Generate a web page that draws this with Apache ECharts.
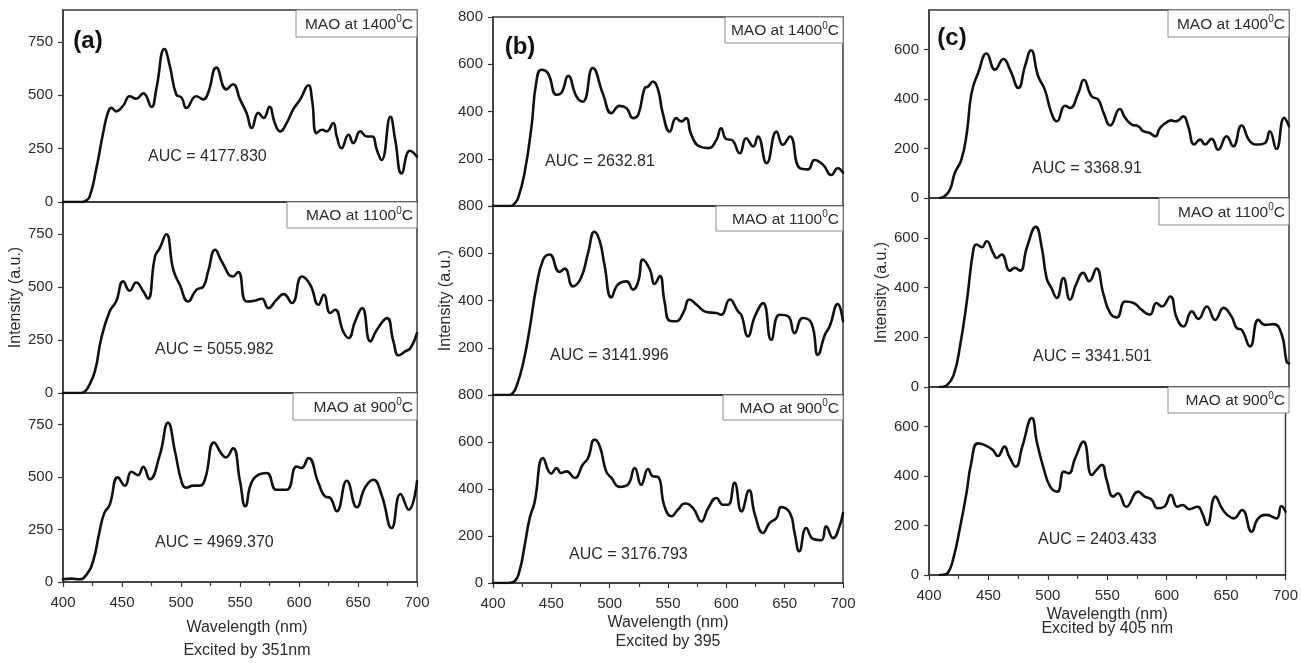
<!DOCTYPE html>
<html>
<head>
<meta charset="utf-8">
<script src="https://cdn.jsdelivr.net/npm/echarts@6/dist/echarts.min.js"></script>
<style>
  html, body { margin: 0; padding: 0; background: #ffffff; }
  #chart { width: 1301px; height: 663px; }
</style>
</head>
<body>
<div id="chart"></div>
<script>
// ---- Emission spectra: wavelength (nm) vs intensity (a.u.) ----
// (a) excited by 351 nm
const a1400 = [[400,0],[416,0],[419,5],[422.5,24],[428,150],[434,323],[438,418],[441,441],[445,425],[451,452],[456.5,496],[462,484],[468,509],[475,446],[479,528],[486,717],[490.5,638],[496,504],[500.5,489],[504.5,441],[513,496],[519,481],[523,512],[530,630],[538.5,528],[544,552],[550,481],[555.5,418],[560,347],[565.5,418],[570,394],[575,446],[579.5,370],[584,331],[589.5,370],[595,433],[601,481],[608,547],[611,481],[615,323],[619.5,339],[623.5,331],[629,370],[632,307],[636,252],[642,315],[646,276],[652,331],[657.5,307],[662,307],[666,244],[670,197],[677.5,399],[681.5,292],[687,134],[694,240],[700,213]];
const a1100 = [[400,0],[415,0],[418,5],[421,24],[427,102],[432.5,259],[439.5,384],[445,431],[451,526],[456.5,482],[462,521],[468,479],[472,444],[478,643],[482,683],[487.5,748],[493.5,580],[499,510],[506,431],[513,486],[519,502],[523,573],[529,675],[534.5,620],[544,549],[548.5,570],[555.5,431],[562.5,435],[568.5,444],[574,400],[581,439],[587,466],[594,424],[602.5,549],[609.5,510],[616.5,416],[621,463],[626.5,377],[630.5,392],[637.5,290],[642,259],[647.5,337],[653.5,400],[660.5,243],[666,298],[674.5,353],[680,243],[684.5,177],[690,196],[694.5,212],[700,282]];
const a900 = [[400,13],[407,16],[414,13],[420,36],[425.5,99],[431,241],[435,328],[439.5,367],[446.5,498],[452.5,459],[458,525],[463.5,509],[468,548],[473.5,489],[482,604],[489,758],[495,619],[500.5,478],[504.5,449],[510.5,459],[516,459],[520.5,493],[528,664],[534.5,609],[538,593],[544,637],[550,480],[554.5,361],[561,487],[572.5,519],[581,439],[589.5,439],[598,550],[602,543],[608,590],[616.5,471],[622,408],[626.5,400],[632,337],[640.5,482],[649,356],[656,450],[663,487],[670,414],[678.5,257],[686,419],[693,344],[700,479]];

// (b) excited by 395 nm
const b1400 = [[400,0],[415.5,0],[418,8],[421.5,33],[427,139],[433,336],[437,520],[441.5,577],[447,563],[454.5,471],[458.5,478],[464.5,551],[471.5,464],[477,442],[485.5,584],[494.5,471],[501.5,393],[508.5,424],[514.5,414],[520,372],[524.5,386],[530,499],[533,506],[537,527],[541.5,492],[545.5,393],[551.5,315],[557,372],[561.5,358],[565.5,372],[570,301],[577,252],[584.5,245],[591.5,280],[595.5,329],[600,283],[604.5,280],[611.5,223],[617,287],[623,252],[627,294],[634.5,181],[643,315],[648.5,259],[654.5,294],[663,160],[670,155],[675.5,195],[683,174],[690,131],[695.5,160],[700,141]];
const b1100 = [[400,0],[414,0],[417,8],[420,35],[425.5,127],[431.5,283],[437,453],[443,573],[448.5,595],[457,521],[461.5,535],[468.5,460],[475.5,496],[481.5,602],[487,691],[491.5,651],[495.5,552],[501.5,413],[507,467],[514.5,481],[520,446],[524.5,481],[528.5,573],[534.5,531],[538.5,470],[543,503],[547,396],[551.5,314],[557,312],[563,347],[568.5,404],[574.5,382],[583,351],[591.5,347],[595.5,340],[603,404],[610,354],[613,337],[618.5,248],[624.5,333],[631.5,389],[638.5,234],[645.5,340],[653,333],[658.5,262],[665.5,326],[673,304],[678.5,170],[684.5,255],[688.5,290],[695.5,385],[700,312]];
const b900 = [[400,0],[413,0],[418.5,7],[423,57],[427,156],[431.5,277],[435.5,340],[443,532],[450,465],[454.5,489],[458.5,468],[463,475],[470,447],[477,504],[481.5,532],[487,610],[491.5,582],[497,475],[501.5,447],[508.5,409],[515.5,418],[521.5,489],[527,418],[533,485],[537,454],[541.5,451],[547,326],[553,284],[558.5,312],[564.5,338],[571.5,319],[578.5,262],[584.5,319],[591.5,362],[597,333],[601.5,333],[607,426],[613,305],[619.5,394],[624.5,291],[631.5,213],[637,255],[643,277],[647,323],[654.5,298],[658.5,213],[662.5,135],[668.5,234],[674.5,187],[681.5,182],[685.5,241],[691.5,191],[697,241],[700,298]];

// (c) excited by 405 nm
const c1400 = [[409,0],[413,7],[417.5,34],[421.5,101],[427,155],[431.5,263],[435.5,425],[441,506],[448,584],[455,519],[462,562],[467.5,519],[474.5,445],[480,533],[485,597],[491,492],[496.5,438],[502,344],[506.5,310],[513.5,373],[517.5,364],[524.5,425],[529,478],[535.5,411],[541,398],[545.5,344],[551,293],[559,360],[563.5,324],[569,297],[574.5,290],[578.5,270],[584,263],[588.5,249],[592.5,283],[598,306],[602,314],[605,310],[608,314],[612,330],[616,290],[621,216],[626,236],[630,216],[635.5,239],[641,195],[648,249],[653.5,209],[660.5,293],[667.5,229],[674.5,216],[680,222],[684,270],[689.5,198],[696,324],[700,290]];
const c1100 = [[409,0],[412,1],[414.5,5],[420.5,48],[426,169],[431.5,344],[437,553],[439.5,573],[444,562],[448,586],[453.5,539],[456.5,519],[460.5,533],[467.5,468],[471.5,479],[476,468],[481.5,560],[489,644],[494,560],[498,438],[502,398],[506.5,358],[512,438],[517.5,351],[523,418],[528.5,459],[533.5,425],[539.5,476],[545.5,371],[551,297],[556.5,280],[563.5,344],[570.5,338],[577,311],[584,291],[589.5,338],[594,324],[601,364],[606.5,277],[612,243],[619,304],[624.5,274],[631.5,324],[638.5,270],[645.5,318],[652,284],[656.5,237],[660.5,230],[667.5,163],[674.5,270],[680,250],[687,253],[694,210],[698,102],[700,95]];
const c900 = [[409,0],[412,1],[416,9],[420.5,67],[426,189],[431.5,330],[435.5,452],[441,532],[446.5,526],[453.5,506],[458,481],[463.5,519],[467.5,479],[473,438],[478.5,519],[486.5,634],[491,532],[496.5,431],[502,357],[508,337],[513.5,418],[517.5,411],[523,472],[530,539],[537,404],[541,425],[545.5,445],[549.5,384],[555,317],[559,330],[566,276],[576,337],[581.5,317],[587,306],[592.5,270],[598,276],[603.5,324],[609,276],[613.5,283],[619,266],[626,276],[630,249],[634,202],[641,317],[646.5,270],[651,243],[656.5,229],[663.5,263],[671.5,175],[677,229],[684,243],[692.5,229],[696.5,279],[700,256]];

// ---- Labels and ticks ----
const panelLetters = ['(a)', '(b)', '(c)'];
const temperatures = ['1400', '1100', '900'];
const aucA = ['4177.830', '5055.982', '4969.370'];
const aucB = ['2632.81', '3141.996', '3176.793'];
const aucC = ['3368.91', '3341.501', '2403.433'];
const excitation = ['Excited by 351nm', 'Excited by 395', 'Excited by 405 nm'];
const xTicks = [400, 450, 500, 550, 600, 650, 700];
const yTicksA = [0, 250, 500, 750];
const yTicksB = [0, 200, 400, 600, 800];
const yTicksC = [0, 200, 400, 600];
const yMaxes = [900, 800, 760];

const FONT = '"Liberation Sans", Arial, Helvetica, sans-serif';
const INK = '#2b2b2b';
const FRAME = '#3a3a3a';

// Panel geometry (pixels) for each column of three stacked plots
const columns = [
  { left: 63,  right: 417,  rows: [[10, 202], [202, 393], [393, 584]], ticks: yTicksA, interval: 250,
    series: [a1400, a1100, a900], auc: aucA, letter: [88, 41],
    aucPos: [[148, 157], [155, 350], [155, 543]],
    boxes: [[296, 27], [287, 26], [293, 27]],
    nameGap: 34, nameLine: 23, namePad: 14, yNameGap: 37, hideZero: false },
  { left: 493, right: 843,  rows: [[17, 206], [206, 395], [395, 583]], ticks: yTicksB, interval: 200,
    series: [b1400, b1100, b900], auc: aucB, letter: [520, 47],
    aucPos: [[545, 162], [550, 356], [569, 555]],
    boxes: [[725, 26], [716, 25], [723, 25]],
    nameGap: 30, nameLine: 19, namePad: 0, yNameGap: 37, hideZero: true },
  { left: 929, right: 1289, rows: [[10, 198], [198, 387], [387, 575]], ticks: yTicksC, interval: 200,
    series: [c1400, c1100, c900], auc: aucC, letter: [952, 38],
    aucPos: [[1032, 169], [1033, 357], [1038, 540]],
    boxes: [[1168, 27], [1159, 27], [1168, 26]],
    nameGap: 33, nameLine: 14, namePad: 0, yNameGap: 38, hideZero: false }
];

const grids = [], xAxes = [], yAxes = [], series = [], graphics = [];

columns.forEach((col, ci) => {
  col.rows.forEach((row, ri) => {
    const idx = grids.length;
    const isBottom = ri === 2;
    const isMiddle = ri === 1;
    grids.push({
      left: col.left, top: row[0], width: col.right - col.left, height: row[1] - row[0],
      show: true, borderColor: FRAME, borderWidth: 1.5, backgroundColor: 'transparent'
    });
    xAxes.push({
      type: 'value', gridIndex: idx, min: 400, max: 700, interval: 50,
      axisLine: { show: true, onZero: false, lineStyle: { color: FRAME, width: 1.5 } },
      axisTick: { show: isBottom, length: 5, inside: false, lineStyle: { color: FRAME, width: 1.2 } },
      minorTick: { show: isBottom, splitNumber: 2, length: 4, lineStyle: { color: FRAME, width: 1.2 } },
      axisLabel: { show: isBottom, margin: 13, fontSize: 15, color: INK, fontFamily: FONT },
      splitLine: { show: false },
      name: isBottom ? 'Wavelength (nm)\n' + excitation[ci] : '',
      nameLocation: 'middle', nameGap: col.nameGap,
      nameTextStyle: { fontSize: 16, color: INK, fontFamily: FONT, lineHeight: col.nameLine,
                       padding: [0, 0, 0, col.namePad] }
    });
    const shownTicks = col.ticks.filter(v => !(col.hideZero && !isBottom && v === 0));
    yAxes.push({
      type: 'value', gridIndex: idx, min: 0, max: yMaxes[ci], interval: col.interval,
      axisLine: { show: true, lineStyle: { color: FRAME, width: 1.5 } },
      axisTick: { show: true, length: 5, customValues: col.ticks, lineStyle: { color: FRAME, width: 1.2 } },
      axisLabel: { show: true, margin: 10, fontSize: 15, color: INK, fontFamily: FONT,
                   customValues: shownTicks },
      splitLine: { show: false },
      name: isMiddle ? 'Intensity (a.u.)' : '',
      nameLocation: 'middle', nameGap: col.yNameGap,
      nameTextStyle: { fontSize: 16, color: INK, fontFamily: FONT }
    });
    series.push({
      type: 'line', xAxisIndex: idx, yAxisIndex: idx,
      data: col.series[ri], showSymbol: false, smooth: 0.5,
      lineStyle: { color: '#111111', width: 2.6, join: 'round', cap: 'round' },
      silent: true, animation: false
    });

    // temperature label box in the top-right corner of each plot
    const box = col.boxes[ri];
    graphics.push({
      type: 'rect', shape: { x: box[0], y: row[0], width: col.right - box[0], height: box[1] },
      style: { fill: '#ffffff', stroke: '#8a8a8a', lineWidth: 1 }, z: 10
    });
    graphics.push({
      type: 'text', x: col.right - 4, y: row[0] + box[1] / 2 + 1, z: 11,
      style: {
        text: '{t|MAO at ' + temperatures[ri] + '}{s|0}{t|C}',
        align: 'right', verticalAlign: 'middle',
        rich: {
          t: { fontSize: 15.5, fontFamily: FONT, fill: INK, lineHeight: 20 },
          s: { fontSize: 10, fontFamily: FONT, fill: INK, verticalAlign: 'top', lineHeight: 20 }
        }
      }
    });

    // area-under-curve annotation
    const ap = col.aucPos[ri];
    graphics.push({
      type: 'text', x: ap[0], y: ap[1], z: 11,
      style: { text: 'AUC = ' + col.auc[ri], fontSize: 16, fontFamily: FONT, fill: INK,
               align: 'left', verticalAlign: 'middle' }
    });
  });

  graphics.push({
    type: 'text', x: col.letter[0], y: col.letter[1], z: 11,
    style: { text: panelLetters[ci], fontSize: 24, fontWeight: 'bold', fontFamily: FONT,
             fill: '#111111', align: 'center', verticalAlign: 'middle' }
  });
});

const chart = echarts.init(document.getElementById('chart'), null, { renderer: 'canvas' });
chart.setOption({
  backgroundColor: '#ffffff',
  animation: false,
  grid: grids,
  xAxis: xAxes,
  yAxis: yAxes,
  series: series,
  graphic: graphics
});
</script>
</body>
</html>
